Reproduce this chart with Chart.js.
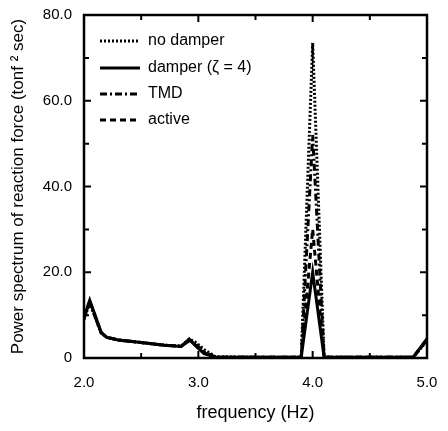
<!DOCTYPE html>
<html>
<head>
<meta charset="utf-8">
<script src="https://cdn.jsdelivr.net/npm/chart.js@4/dist/chart.umd.min.js"></script>
<style>
  html, body { margin: 0; padding: 0; background: #fff; }
  #wrap { width: 448px; height: 431px; }
</style>
</head>
<body>
<div id="wrap"><canvas id="psd"></canvas></div>
<script>
// frequency (Hz) and power spectrum
const freq      = [2.0, 2.05, 2.15, 2.2, 2.3, 2.5, 2.7, 2.85, 2.92, 2.97, 3.05, 3.15, 3.5, 3.9, 4.0, 4.1, 4.5, 4.88, 5.0];
const noDamper  = [9.0, 12.8, 5.8, 4.8, 4.2, 3.6, 3.0, 2.8, 4.4, 3.8, 2.0, 0.3, 0.2, 0.2, 73.5, 0.2, 0.2, 0.2, 4.0];
const damper    = [9.5, 13.5, 6.0, 4.8, 4.2, 3.6, 3.0, 2.7, 4.4, 3.0, 1.0, 0.2, 0.2, 0.2, 20.0, 0.2, 0.2, 0.2, 4.5];
const tmd       = [9.2, 13.0, 5.9, 4.8, 4.2, 3.6, 3.0, 2.7, 4.0, 3.4, 1.5, 0.2, 0.2, 0.2, 52.0, 0.2, 0.2, 0.2, 4.2];
const active    = [9.3, 13.2, 5.9, 4.8, 4.2, 3.6, 3.0, 2.7, 4.2, 3.2, 1.2, 0.2, 0.2, 0.2, 30.0, 0.2, 0.2, 0.2, 4.3];

const seriesNames = ['no damper', 'damper (\u03B6 = 4)', 'TMD', 'active'];
const yTitle = 'Power spectrum of reaction force (tonf \u00B2 sec)';
const xTitle = 'frequency (Hz)';

const FONT = '"Liberation Sans", Arial, sans-serif';

function pts(ys) {
    return freq.map((f, i) => ({x: f, y: ys[i]}));
}

function makeSet(label, ys, dash) {
    return {
        label: label,
        data: pts(ys),
        showLine: true,
        borderColor: '#000',
        borderWidth: 3,
        borderDash: dash,
        pointRadius: 0,
        tension: 0,
        fill: false
    };
}

// box frame with inward ticks, drawn from the scales
const framePlugin = {
    id: 'frame',
    afterDatasetsDraw(chart) {
        const ctx = chart.ctx;
        const a = chart.chartArea;
        const xs = chart.scales.x, ys = chart.scales.y;
        ctx.save();
        ctx.strokeStyle = '#000';
        ctx.lineWidth = 2.5;
        ctx.strokeRect(a.left, a.top, a.right - a.left, a.bottom - a.top);
        ctx.lineWidth = 2;
        ctx.beginPath();
        for (let v = 10; v < 80; v += 10) {
            const py = ys.getPixelForValue(v);
            const len = v % 20 === 0 ? 7 : 5;
            ctx.moveTo(a.left, py); ctx.lineTo(a.left + len, py);
            ctx.moveTo(a.right, py); ctx.lineTo(a.right - len, py);
        }
        for (let v = 2.5; v < 5; v += 0.5) {
            const px = xs.getPixelForValue(v);
            const len = Math.abs(v - Math.round(v)) < 0.01 ? 7 : 5;
            ctx.moveTo(px, a.bottom); ctx.lineTo(px, a.bottom - len);
            ctx.moveTo(px, a.top); ctx.lineTo(px, a.top + len);
        }
        ctx.stroke();
        ctx.restore();
    }
};

// legend inside the plot, top left
const legendPlugin = {
    id: 'insideLegend',
    afterDraw(chart) {
        const ctx = chart.ctx;
        const x0 = 100, x1 = 140;
        const rows = [41, 68, 94, 120];
        ctx.save();
        ctx.font = '16px ' + FONT;
        ctx.fillStyle = '#000';
        ctx.textBaseline = 'middle';
        chart.data.datasets.forEach((ds, i) => {
            const y = rows[i];
            ctx.strokeStyle = '#000';
            ctx.lineWidth = 3;
            ctx.setLineDash(ds.borderDash || []);
            ctx.beginPath();
            ctx.moveTo(x0, y); ctx.lineTo(x1, y);
            ctx.stroke();
            ctx.setLineDash([]);
            ctx.fillText(ds.label, 148, y);
        });
        ctx.restore();
    }
};

const chart = new Chart(document.getElementById('psd').getContext('2d'), {
    type: 'scatter',
    data: {
        datasets: [
            makeSet(seriesNames[0], noDamper, [2, 2]),
            makeSet(seriesNames[1], damper, []),
            makeSet(seriesNames[2], tmd, [7, 3, 2, 3]),
            makeSet(seriesNames[3], active, [6, 4])
        ]
    },
    options: {
        responsive: true,
        maintainAspectRatio: false,
        animation: false,
        layout: { padding: { top: 15, right: 21, left: 0, bottom: 0 } },
        plugins: {
            legend: { display: false },
            tooltip: { enabled: false }
        },
        scales: {
            x: {
                type: 'linear',
                min: 2, max: 5,
                afterFit(s) {
                    s.height = 73;
                    s.paddingLeft = 0;
                    s.paddingRight = 0;
                },
                grid: { display: false, drawTicks: false },
                border: { display: false },
                ticks: {
                    stepSize: 1,
                    padding: 16,
                    color: '#000',
                    font: { family: FONT, size: 15 },
                    callback: (v) => v.toFixed(1)
                },
                title: {
                    display: true,
                    text: xTitle,
                    color: '#000',
                    font: { family: FONT, size: 18 },
                    padding: { top: 0, bottom: 7 }
                }
            },
            y: {
                min: 0, max: 80,
                afterFit(s) {
                    s.width = 84;
                    s.paddingTop = 0;
                    s.paddingBottom = 0;
                },
                grid: { display: false, drawTicks: false },
                border: { display: false },
                ticks: {
                    stepSize: 20,
                    padding: 12,
                    color: '#000',
                    font: { family: FONT, size: 15 },
                    callback: (v) => v === 0 ? '0' : v.toFixed(1)
                },
                title: {
                    display: true,
                    text: yTitle,
                    color: '#000',
                    font: { family: FONT, size: 17 },
                    padding: { top: 8, bottom: 0 }
                }
            }
        }
    },
    plugins: [framePlugin, legendPlugin]
});
</script>
</body>
</html>
